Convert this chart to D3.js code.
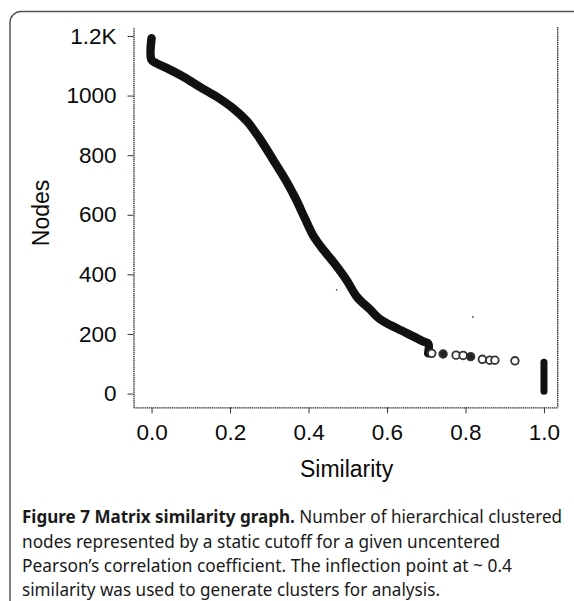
<!DOCTYPE html>
<html>
<head>
<meta charset="utf-8">
<script src="https://cdn.jsdelivr.net/npm/d3@7"></script>
<style>
	body { margin: 0; background: #fff; }
	svg { display: block; }
	.tick text { font-family: "Liberation Sans", Arial, sans-serif; font-size: 22.5px; fill: #0a0a0a; }
	.tick line { stroke: #333; stroke-width: 1; }
	.axis-title { font-family: "Liberation Sans", Arial, sans-serif; font-size: 23px; fill: #0a0a0a; }
	.caption { font-family: "Noto Sans", "Open Sans", sans-serif; font-size: 17.5px; fill: #1a1a1a; }
</style>
</head>
<body>
<div id="chart"></div>
<script>
var width = 574;
var height = 601;

// main curve (similarity cutoff vs number of nodes)
var curveX = [0, 0, 0.013, 0.039, 0.081, 0.124, 0.166, 0.208, 0.243, 0.276, 0.31, 0.344, 0.368,
	0.39, 0.412, 0.438, 0.463, 0.497, 0.523, 0.557, 0.582, 0.625, 0.667, 0.692, 0.705, 0.705];
var curveY = [1192, 1119, 1108, 1092, 1063, 1028, 996, 957, 914, 855, 784, 711, 652,
	590, 530, 482, 442, 381, 325, 282, 250, 219, 192, 175, 168, 135];

// sparse tail of single points
var tailX = [0.714, 0.743, 0.776, 0.794, 0.813, 0.843, 0.862, 0.875, 0.926];
var tailY = [135, 133, 129, 128, 124, 115, 112, 112, 110];
var tailFilled = [false, true, false, false, true, false, false, false, false];

// column of points at similarity 1.0
var endX = [1, 1];
var endY = [105, 8];

// stray specks
var speckX = [0.472, 0.819];
var speckY = [348, 257];

var xTicks = [0, 0.2, 0.4, 0.6, 0.8, 1.0];
var yTicks = [0, 200, 400, 600, 800, 1000, 1200];

var captionLines = [
	"nodes represented by a static cutoff for a given uncentered",
	"Pearson\u2019s correlation coefficient. The inflection point at ~ 0.4",
	"similarity was used to generate clusters for analysis."
];

var plotLeft = 133.5, plotRight = 557.7, plotTop = 27, plotBottom = 407.3;

var svg = d3.select("#chart").append("svg")
	.attr("width", width)
	.attr("height", height);

// frame around figure + caption
svg.append("rect")
	.attr("x", 10)
	.attr("y", 11.5)
	.attr("width", 620)
	.attr("height", 640)
	.attr("rx", 11)
	.attr("fill", "none")
	.attr("stroke", "#555")
	.attr("stroke-width", 1.5);

var x = d3.scaleLinear()
	.domain([-0.046, 1.035])
	.range([plotLeft, plotRight]);

var y = d3.scaleLinear()
	.domain([-46, 1230])
	.range([plotBottom, plotTop]);

// axes
svg.append("g")
	.attr("transform", "translate(0," + plotBottom + ")")
	.call(d3.axisBottom(x)
		.tickValues(xTicks)
		.tickFormat(d3.format(".1f"))
		.tickSize(6)
		.tickSizeOuter(0)
		.tickPadding(11));

svg.append("g")
	.attr("transform", "translate(" + plotLeft + ",0)")
	.call(d3.axisLeft(y)
		.tickValues(yTicks)
		.tickFormat(function(d) { return d === 1200 ? "1.2K" : d; })
		.tickSize(6)
		.tickSizeOuter(0)
		.tickPadding(11));

svg.selectAll(".domain")
	.attr("stroke", "#333")
	.attr("stroke-width", 1.3)
	.attr("stroke-dasharray", "1.5,0.6");

// right border of plot
svg.append("line")
	.attr("x1", plotRight)
	.attr("x2", plotRight)
	.attr("y1", plotTop)
	.attr("y2", plotBottom)
	.attr("stroke", "#333")
	.attr("stroke-width", 1.3)
	.attr("stroke-dasharray", "1.5,0.6");

// axis titles
svg.append("text")
	.attr("class", "axis-title")
	.attr("text-anchor", "middle")
	.attr("x", (plotLeft + plotRight) / 2 + 1)
	.attr("y", 477)
	.text("Similarity");

svg.append("text")
	.attr("class", "axis-title")
	.attr("text-anchor", "middle")
	.attr("transform", "translate(49,213) rotate(-90)")
	.text("Nodes");

// data
var line = d3.line()
	.x(function(d) { return x(d[0]); })
	.y(function(d) { return y(d[1]); });

svg.append("path")
	.datum(d3.zip(curveX, curveY))
	.attr("d", line.curve(d3.curveCatmullRom.alpha(0.5)))
	.attr("fill", "none")
	.attr("stroke", "#111")
	.attr("stroke-width", 8.5)
	.attr("stroke-linecap", "round")
	.attr("stroke-linejoin", "round");

svg.append("path")
	.datum(d3.zip(endX, endY))
	.attr("d", line.curve(d3.curveLinear))
	.attr("fill", "none")
	.attr("stroke", "#111")
	.attr("stroke-width", 7)
	.attr("stroke-linecap", "round");

svg.selectAll(".tail")
	.data(d3.zip(tailX, tailY, tailFilled))
	.enter()
	.append("circle")
		.attr("class", "tail")
		.attr("cx", function(d) { return x(d[0]); })
		.attr("cy", function(d) { return y(d[1]); })
		.attr("r", 3.8)
		.attr("fill", function(d) { return d[2] ? "#222" : "#fff"; })
		.attr("stroke", "#333")
		.attr("stroke-width", 1.8);

svg.selectAll(".speck")
	.data(d3.zip(speckX, speckY))
	.enter()
	.append("circle")
		.attr("class", "speck")
		.attr("cx", function(d) { return x(d[0]); })
		.attr("cy", function(d) { return y(d[1]); })
		.attr("r", 0.9)
		.attr("fill", "#555");

// caption
var cap = svg.append("text")
	.attr("class", "caption")
	.attr("x", 22)
	.attr("y", 523)
	.attr("textLength", 540)
	.attr("lengthAdjust", "spacingAndGlyphs");
cap.append("tspan")
	.attr("font-weight", "bold")
	.text("Figure 7 Matrix similarity graph.");
cap.append("tspan")
	.text(" Number of hierarchical clustered");

var capLengths = [478, 490, 418];
svg.selectAll(".caption-line")
	.data(captionLines)
	.enter()
	.append("text")
		.attr("class", "caption caption-line")
		.attr("x", 22)
		.attr("y", function(d, i) { return 547.5 + i * 24; })
		.attr("textLength", function(d, i) { return capLengths[i]; })
		.attr("lengthAdjust", "spacingAndGlyphs")
		.text(function(d) { return d; });
</script>
</body>
</html>
